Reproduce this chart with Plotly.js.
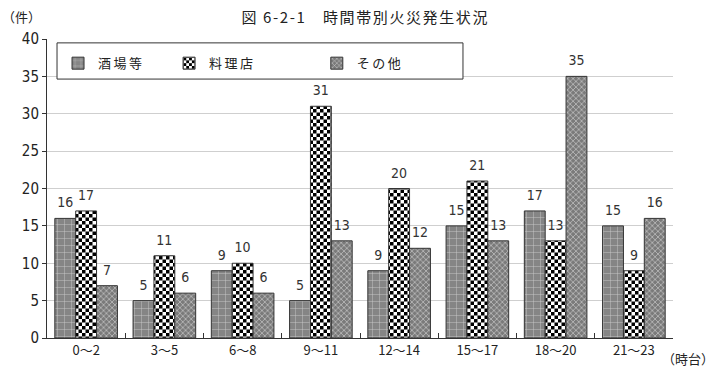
<!DOCTYPE html>
<html><head><meta charset="utf-8">
<script src="https://cdn.plot.ly/plotly-3.0.1.min.js"></script>
<style>
html,body{margin:0;padding:0;background:#fff;}#chart{width:719px;height:376px;}
.gtitle{letter-spacing:1.6px;}
.legendbar{transform:scale(1.45);}
</style>
</head><body><div id="chart"></div>
<script>
const categories = ['0～2','3～5','6～8','9～11','12～14','15～17','18～20','21～23'];
const seriesNames = ['酒場等','料理店','その他'];
const bars = [16,5,9,5,9,15,17,15];
const restaurants = [17,11,10,31,20,21,13,9];
const others = [7,6,6,13,12,13,35,16];
const yTicks = [0,5,10,15,20,25,30,35,40];

const JP = '"Noto Sans CJK JP", sans-serif';
const NUM = '"Liberation Sans Narrow", "DejaVu Sans Condensed", sans-serif';

function mk(name, vals, pattern, legendId) {
  return {
    type:'bar', name:name, x:categories, y:vals, legend:legendId,
    marker:{color:pattern.bgcolor, pattern:pattern, line:{color:'#333', width:1}},
    text: vals.map(String), textposition:'outside',
    textfont:{family:NUM, size:14, color:'#333'}, cliponaxis:false, hoverinfo:'skip'
  };
}
const data = [
  mk(seriesNames[0], bars, {shape:'+', bgcolor:'#858585', fgcolor:'#cfcfcf', size:7, solidity:0.12, fillmode:'replace'}, 'legend'),
  mk(seriesNames[1], restaurants, {shape:'.', bgcolor:'#ffffff', fgcolor:'#010203', size:7, solidity:0.5, fillmode:'replace'}, 'legend2'),
  mk(seriesNames[2], others, {shape:'x', bgcolor:'#7a7a7a', fgcolor:'#cccccc', size:4, solidity:0.3, fillmode:'replace'}, 'legend3')
];
function leg(x){
  return {x:x, y:0.919, xanchor:'left', yanchor:'middle', orientation:'h', bgcolor:'rgba(0,0,0,0)', borderwidth:0,
          font:{family:JP, size:13, color:'#222'}};
}
const layout = {
  width:719, height:376,
  margin:{l:47, r:46, t:39, b:38},
  paper_bgcolor:'#fff', plot_bgcolor:'#fff',
  font:{family:JP, color:'#222'},
  title:{text:'図 6-2-1　時間帯別火災発生状況', font:{family:JP, size:15, color:'#222'}, xref:'container', x:0.508, xanchor:'center', yref:'container', y:0.953, yanchor:'middle'},
  bargap:0.2, bargroupgap:0,
  showlegend:true,
  legend:leg(0.0176), legend2:leg(0.195), legend3:leg(0.431),
  xaxis:{type:'category', showline:true, linecolor:'#333', linewidth:1, ticks:'inside', tickson:'boundaries', ticklen:5, tickcolor:'#333',
         tickfont:{family:JP, size:13, color:'#222'}, showgrid:false, zeroline:false, fixedrange:true},
  yaxis:{range:[0,40], tickvals:yTicks, ticktext:yTicks.map(String), showline:true, linecolor:'#333', linewidth:1, ticks:'outside', ticklen:4, tickcolor:'#333',
         tickfont:{family:NUM, size:15, color:'#222'}, showgrid:true, gridcolor:'#cfcfcf', zeroline:false, fixedrange:true},
  shapes:[{type:'rect', xref:'paper', yref:'paper', x0:0.016, x1:0.6645, y0:0.866, y1:0.987, line:{color:'#333', width:1}, fillcolor:'#fff', layer:'above'}],
  annotations:[
    {text:'（件）', xref:'paper', yref:'paper', x:-0.075, y:1.075, xanchor:'left', yanchor:'middle', showarrow:false, font:{family:JP, size:13, color:'#222'}},
    {text:'（時台）', xref:'paper', yref:'paper', x:1.068, y:-0.068, xanchor:'right', yanchor:'middle', showarrow:false, font:{family:JP, size:13, color:'#222'}}
  ]
};

function post(){
  const ns = 'http://www.w3.org/2000/svg';
  document.querySelectorAll('pattern').forEach(p => {
    const h = p.innerHTML;
    if (h.indexOf('010203') < 0 && h.indexOf('1, 2, 3') < 0) return;
    const s = 7, c = 3.5;
    p.setAttribute('width', s); p.setAttribute('height', s);
    while (p.firstChild) p.removeChild(p.firstChild);
    const add = (x,y,w,hh,f) => { const r = document.createElementNS(ns,'rect'); r.setAttribute('x',x); r.setAttribute('y',y); r.setAttribute('width',w); r.setAttribute('height',hh); r.setAttribute('fill',f); p.appendChild(r); };
    add(0,0,s,s,'#ffffff'); add(0,0,c,c,'#000000'); add(c,c,c,c,'#000000');
  });
  document.querySelectorAll('svg text').forEach(t => {
    if (seriesNames.indexOf((t.textContent || '').trim()) >= 0) {
      t.setAttribute('letter-spacing','2.5'); t.style.letterSpacing = '2.5px';
    }
  });
  document.querySelectorAll('text.bartext').forEach(t => {
    if (t.getAttribute('data-shifted')) return;
    const tr = t.getAttribute('transform') || '';
    t.setAttribute('transform', 'translate(0,-5) ' + tr);
    t.setAttribute('data-shifted', '1');
  });
}
const gd = document.getElementById('chart');
Plotly.newPlot(gd, data, layout, {displayModeBar:false, staticPlot:true}).then(() => {
  post();
  gd.on('plotly_afterplot', post);
});
</script></body></html>
